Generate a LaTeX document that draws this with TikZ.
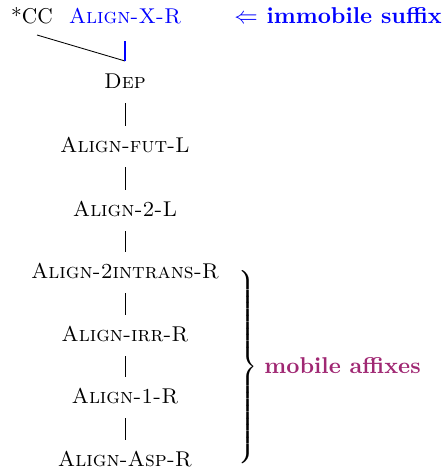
\documentclass[tikz,border=0pt]{standalone}
\usepackage{amsmath}
\usetikzlibrary{calc}
\definecolor{mobcol}{RGB}{160,40,115}
\begin{document}
\begin{tikzpicture}[x=0.4673pt,y=-0.4673pt,
  cons/.style={inner sep=0pt,anchor=base},
  note/.style={inner sep=0pt,font=\fontsize{10.7pt}{13pt}\selectfont\bfseries},
  edge/.style={draw=black,line width=0.4pt},
  blueedge/.style={draw=blue,line width=0.6pt}]
\useasboundingbox (0,0) rectangle (442,468);
% constraint hierarchy
\node[cons] (cc) at (32,24) {*CC};
\node[cons,text=blue] (axr) at (125,24) {\textsc{Align-X-R}};
\node[note,text=blue,anchor=base west] (imm) at (234,24) {$\Leftarrow$ immobile suffix};
\node[cons] (dep) at (125,88) {\textsc{Dep}};
\node[cons] (fut) at (125,152) {\textsc{Align-fut-L}};
\node[cons] (twoL) at (125,216) {\textsc{Align-2-L}};
\node[cons] (intr) at (125,278) {\textsc{Align-2intrans-R}};
\node[cons] (irr) at (125,341) {\textsc{Align-irr-R}};
\node[cons] (one) at (125,403) {\textsc{Align-1-R}};
\node[cons] (asp) at (125,466) {\textsc{Align-Asp-R}};
% joint point above Dep
\coordinate (join) at (125,61);
\coordinate (ccfoot) at (37,35);
\coordinate (axrfoot) at (125,41);
\draw[edge] (ccfoot) -- (join);
\draw[blueedge] (axrfoot) -- (join);
% chain of dominations
\foreach \a/\b in {dep/fut,fut/twoL,twoL/intr,intr/irr,irr/one,one/asp}{
  \draw[edge] ($(\a.base)+(0,15)$) -- ($(\b.base)+(0,-26)$);
}
% brace over the mobile affixes
\node[inner sep=0pt] (brace) at (247,366) {$\left.\rule{0pt}{48.5pt}\right\}$};
\node[note,anchor=west,text=mobcol] (mob) at (264,366) {mobile affixes};
\end{tikzpicture}
\end{document}
